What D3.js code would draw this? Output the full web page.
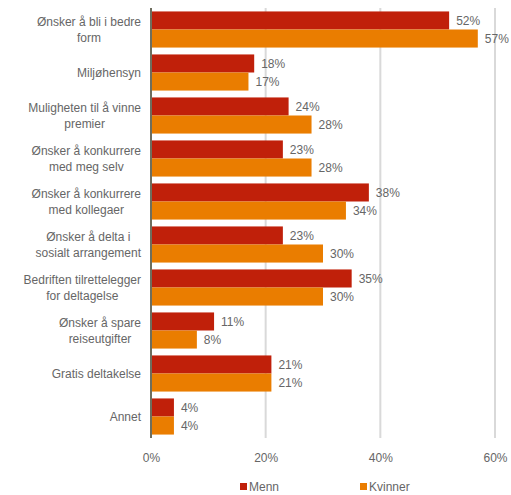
<!DOCTYPE html>
<html>
<head>
<meta charset="utf-8">
<script src="https://cdn.jsdelivr.net/npm/d3@7"></script>
<style>
  html, body { margin: 0; padding: 0; background: #fff; }
  svg { display: block; font-family: "Liberation Sans", Arial, sans-serif; }
</style>
</head>
<body>
<svg id="chart" width="511" height="495"></svg>
<script>
// Reasons for taking part, split by gender (share of respondents, %)
const categories = [
  "Ønsker å bli i bedre\nform",
  "Miljøhensyn",
  "Muligheten til å vinne\npremier",
  "Ønsker å konkurrere\nmed meg selv",
  "Ønsker å konkurrere\nmed kollegaer",
  "Ønsker å delta i\nsosialt arrangement",
  "Bedriften tilrettelegger\nfor deltagelse",
  "Ønsker å spare\nreiseutgifter",
  "Gratis deltakelse",
  "Annet"
];
const seriesNames = ["Menn", "Kvinner"];
const menn    = [52, 18, 24, 23, 38, 23, 35, 11, 21, 4];
const kvinner = [57, 17, 28, 28, 34, 30, 30, 8, 21, 4];
const xTicks = [0, 20, 40, 60];
const colors = ["#C0200A", "#EA7D00"];
const textColor = "#666666";

const svg = d3.select("#chart");
const margin = { left: 151, right: 16, top: 8, bottom: 57 };
const W = 511, H = 495;

const x = d3.scaleLinear().domain([0, 60]).range([margin.left, W - margin.right]);
const y = d3.scaleBand().domain(d3.range(categories.length))
  .range([margin.top, H - margin.bottom]).paddingInner(0.16).paddingOuter(0.08);
const ySub = d3.scaleBand().domain(seriesNames).range([0, y.bandwidth()]);

const values = [menn, kvinner];

// vertical gridlines
svg.append("g").selectAll("line").data(xTicks.filter(t => t > 0)).join("line")
  .attr("x1", d => x(d)).attr("x2", d => x(d))
  .attr("y1", margin.top).attr("y2", H - margin.bottom)
  .attr("stroke", "#D9D9D9").attr("stroke-width", 2);

// bars and value labels
seriesNames.forEach((s, si) => {
  svg.append("g").selectAll("rect").data(values[si]).join("rect")
    .attr("x", x(0))
    .attr("y", (d, i) => y(i) + ySub(s))
    .attr("width", d => x(d) - x(0))
    .attr("height", ySub.bandwidth())
    .attr("fill", colors[si]);
  svg.append("g").selectAll("text").data(values[si]).join("text")
    .attr("x", d => x(d) + 7)
    .attr("y", (d, i) => y(i) + ySub(s) + ySub.bandwidth() / 2)
    .attr("dy", "0.35em")
    .attr("font-size", 12).attr("fill", textColor)
    .text(d => d + "%");
});

// category axis line
svg.append("line")
  .attr("x1", x(0)).attr("x2", x(0))
  .attr("y1", margin.top).attr("y2", H - margin.bottom)
  .attr("stroke", "#6E6E5E").attr("stroke-width", 2);

// category labels, each block centred and right-aligned against the axis
const catG = svg.append("g");
categories.forEach((c, i) => {
  const lines = c.split("\n");
  const cy = y(i) + y.bandwidth() / 2;
  const t = catG.append("text")
    .attr("text-anchor", "middle")
    .attr("font-size", 12).attr("fill", textColor);
  lines.forEach((ln, li) => {
    t.append("tspan").attr("x", 0).attr("y", cy + (li - (lines.length - 1) / 2) * 16)
      .attr("dy", "0.35em").text(ln);
  });
});
catG.selectAll("text").each(function () {
  const el = d3.select(this);
  let maxW = 0;
  el.selectAll("tspan").each(function () { maxW = Math.max(maxW, this.getComputedTextLength()); });
  el.selectAll("tspan").attr("x", 141 - maxW / 2);
});

// x axis tick labels
const xAxis = d3.axisBottom(x).tickValues(xTicks).tickFormat(d => d + "%").tickSize(0).tickPadding(0);
const ax = svg.append("g").attr("transform", `translate(0,${H - margin.bottom + 15})`).call(xAxis);
ax.select(".domain").remove();
ax.selectAll("text").attr("font-size", 12).attr("fill", textColor)
  .attr("font-family", "Liberation Sans, Arial, sans-serif");

// legend
const legendX = [240, 360];
seriesNames.forEach((s, si) => {
  const g = svg.append("g").attr("transform", `translate(${legendX[si]},487)`);
  g.append("rect").attr("x", 0).attr("y", -4).attr("width", 7).attr("height", 7).attr("fill", colors[si]);
  g.append("text").attr("x", 9).attr("y", 0).attr("dy", "0.35em")
    .attr("font-size", 12).attr("fill", textColor).text(s);
});
</script>
</body>
</html>
